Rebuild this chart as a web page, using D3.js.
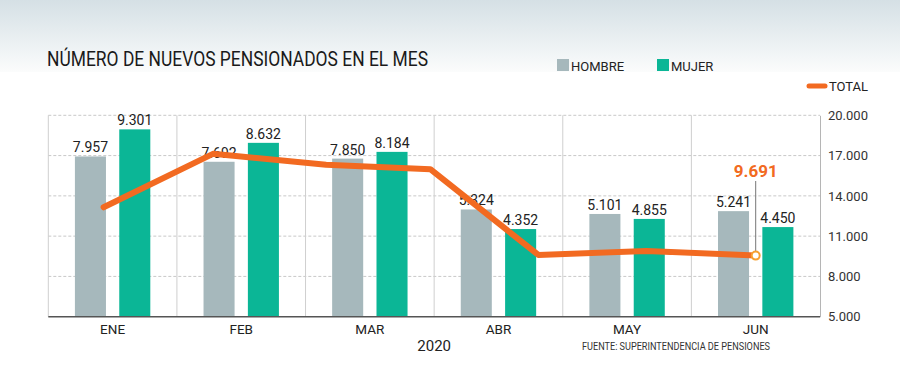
<!DOCTYPE html>
<html><head><meta charset="utf-8">
<script src="https://cdn.jsdelivr.net/npm/d3@7/dist/d3.min.js"></script>
<style>
html,body{margin:0;padding:0;background:#fff;}
svg{display:block;font-family:Roboto, "Noto Sans", sans-serif;}
</style></head>
<body>
<svg id="chart" width="900" height="390"></svg>
<script>
// ---- data ----
const categories = ["ENE","FEB","MAR","ABR","MAY","JUN"];
const hombre = [7957,7692,7850,5324,5101,5241];
const mujer  = [9301,8632,8184,4352,4855,4450];
// TOTAL line vertices as drawn in the source (position along the category axis, value on right axis)
const totalPos   = [0.43, 1.28, 2.16, 2.97, 3.81, 4.65, 5.50];
const totalLine  = [13150, 17130, 16310, 15990, 9600, 9900, 9550];
const totalLabel = "9.691";
const rightTicks = [5000, 8000, 11000, 14000, 17000, 20000];
const seriesNames = ["HOMBRE","MUJER"];
const colors = {HOMBRE:"#a6b8bc", MUJER:"#0bb696", TOTAL:"#f26a21"};

const fmt = d3.formatLocale({decimal:",", thousands:".", grouping:[3], currency:["$",""]}).format(",d");

const svg = d3.select("#chart");
const W = 900, H = 390;
const m = {left:48.3, right:820, top:115.3, bottom:316.7};

// background gradient
const defs = svg.append("defs");
const grad = defs.append("linearGradient").attr("id","bg").attr("x1",0).attr("y1",0).attr("x2",0).attr("y2",1);
grad.append("stop").attr("offset","0%").attr("stop-color","#d5e0e5");
grad.append("stop").attr("offset","100%").attr("stop-color","#fbfcfc");
svg.append("rect").attr("width",W).attr("height",72).attr("fill","url(#bg)");

// scales
const x = d3.scaleBand().domain(categories).range([m.left, m.right]).padding(0);
const xPos = d3.scaleLinear().domain([0, categories.length]).range([m.left, m.right]);
const yBar = d3.scaleLinear().domain([0, 10000]).range([m.bottom, m.top]);
const yR = d3.scaleLinear().domain([5000, 20000]).range([m.bottom, m.top]);
const xs = d3.scaleBand().domain(seriesNames).range([0, x.bandwidth()]).paddingInner(0.3).paddingOuter(0.6);

// horizontal dashed gridlines
svg.append("g").selectAll("line").data(rightTicks.filter(t => t > 5000)).join("line")
  .attr("x1", m.left).attr("x2", m.right)
  .attr("y1", d => yR(d)).attr("y2", d => yR(d))
  .attr("stroke","#c8c8c8").attr("stroke-width",1).attr("stroke-dasharray","3,2");

// vertical category separators
svg.append("g").selectAll("line").data(categories).join("line")
  .attr("x1", d => x(d)).attr("x2", d => x(d))
  .attr("y1", m.top).attr("y2", m.bottom)
  .attr("stroke","#cfcfcf").attr("stroke-width",1);

// right axis
const rAxis = svg.append("g").attr("transform",`translate(${m.right},0)`)
  .call(d3.axisRight(yR).tickValues(rightTicks).tickFormat(fmt).tickSize(0).tickPadding(8));
rAxis.select(".domain").attr("stroke","#b5b5b5");
rAxis.selectAll("text").attr("font-size",13).attr("fill","#333").attr("font-family","Roboto");

// bars
const groups = svg.append("g").selectAll("g").data(categories).join("g")
  .attr("transform", d => `translate(${x(d)},0)`);
const barData = (c, i) => [{s:"HOMBRE", v:hombre[i]}, {s:"MUJER", v:mujer[i]}];
groups.selectAll("rect").data(barData).join("rect")
  .attr("x", d => xs(d.s)).attr("width", xs.bandwidth())
  .attr("y", d => yBar(d.v)).attr("height", d => yBar(0) - yBar(d.v))
  .attr("fill", d => colors[d.s]);
groups.selectAll("text").data(barData).join("text")
  .attr("x", d => xs(d.s) + xs.bandwidth()/2)
  .attr("y", d => yBar(d.v) - 4)
  .attr("text-anchor","middle").attr("font-size",14).attr("fill","#222")
  .text(d => fmt(d.v));

// baseline
svg.append("line").attr("x1", m.left).attr("x2", m.right).attr("y1", m.bottom).attr("y2", m.bottom)
  .attr("stroke","#555").attr("stroke-width",1.5);

// category labels
svg.append("g").selectAll("text").data(categories).join("text")
  .attr("x", d => x(d) + x.bandwidth()/2).attr("y", 334)
  .attr("text-anchor","middle").attr("font-size",13.5).attr("fill","#222")
  .text(d => d);
svg.append("text").attr("x", (m.left+m.right)/2).attr("y", 351).attr("text-anchor","middle")
  .attr("font-size",15).attr("fill","#222").text("2020");
svg.append("text").attr("x", 582).attr("y", 350).attr("font-size",11).attr("fill","#333")
  .attr("textLength",188).attr("lengthAdjust","spacingAndGlyphs")
  .text("FUENTE: SUPERINTENDENCIA DE PENSIONES");

// TOTAL line
const pts = totalPos.map((p, i) => [xPos(p), yR(totalLine[i])]);
svg.append("path").attr("d", d3.line()(pts))
  .attr("fill","none").attr("stroke",colors.TOTAL).attr("stroke-width",6)
  .attr("stroke-linejoin","round").attr("stroke-linecap","round");

// last point annotation
const last = pts[pts.length-1];
svg.append("line").attr("x1", last[0]).attr("x2", last[0]).attr("y1", 181).attr("y2", last[1]-4)
  .attr("stroke","#777").attr("stroke-width",1);
svg.append("circle").attr("cx", last[0]).attr("cy", last[1]).attr("r",4)
  .attr("fill","#fff").attr("stroke","#f7a030").attr("stroke-width",2);
svg.append("text").attr("x", last[0]).attr("y", 177).attr("text-anchor","middle")
  .attr("font-size",17).attr("font-weight","bold").attr("fill","#f26a21").text(totalLabel);

// title
svg.append("text").attr("x", 47).attr("y", 66).attr("font-size",20).attr("fill","#1a1a1a")
  .attr("textLength",381).attr("lengthAdjust","spacingAndGlyphs")
  .text("NÚMERO DE NUEVOS PENSIONADOS EN EL MES");

// legend
const leg = [{s:"HOMBRE", x:557}, {s:"MUJER", x:657}];
leg.forEach(l => {
  svg.append("rect").attr("x", l.x).attr("y", 59).attr("width",12).attr("height",12).attr("fill", colors[l.s]);
  svg.append("text").attr("x", l.x+14).attr("y", 71).attr("font-size",13).attr("fill","#222").text(l.s);
});
svg.append("line").attr("x1",809).attr("x2",825).attr("y1",86).attr("y2",86)
  .attr("stroke",colors.TOTAL).attr("stroke-width",5).attr("stroke-linecap","round");
svg.append("text").attr("x",829).attr("y",91).attr("font-size",13).attr("fill","#222").text("TOTAL");
</script>
</body></html>
